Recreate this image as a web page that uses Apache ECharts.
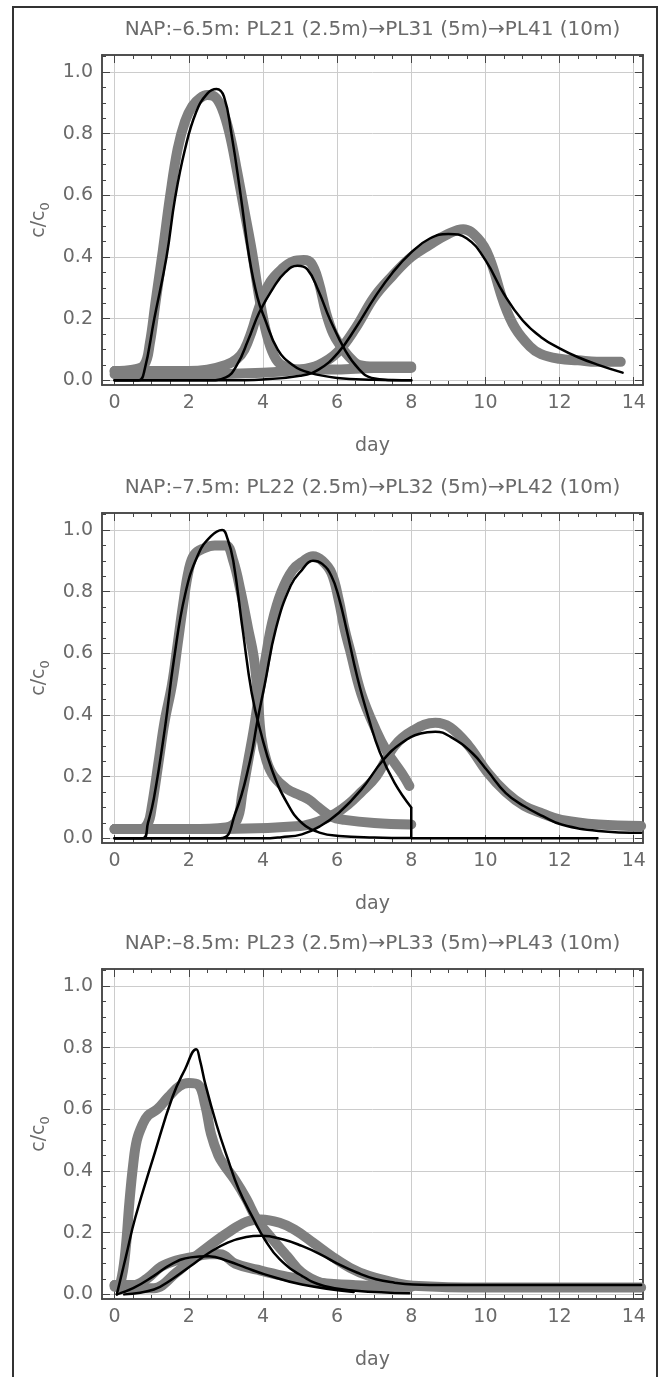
<!DOCTYPE html>
<html>
<head>
<meta charset="utf-8">
<script src="https://cdn.jsdelivr.net/npm/echarts@6/dist/echarts.min.js"></script>
<style>
html,body{margin:0;padding:0;background:#fff;}
#chart{width:660px;height:1377px;}
</style>
</head>
<body>
<div id="chart"></div>
<script>
// ---------- tick values / labels ----------
const X_MAJOR = [0, 2, 4, 6, 8, 10, 12, 14];
const X_MINOR = [0, 0.5, 1, 1.5, 2, 2.5, 3, 3.5, 4, 4.5, 5, 5.5, 6, 6.5, 7, 7.5, 8, 8.5, 9, 9.5, 10, 10.5, 11, 11.5, 12, 12.5, 13, 13.5, 14];
const Y_MAJOR = [0, 0.2, 0.4, 0.6, 0.8, 1.0];
const Y_MINOR = [0, 0.05, 0.1, 0.15, 0.2, 0.25, 0.3, 0.35, 0.4, 0.45, 0.5, 0.55, 0.6, 0.65, 0.7, 0.75, 0.8, 0.85, 0.9, 0.95, 1.0, 1.05];
const TITLES = [
  'NAP:\u20136.5m: PL21 (2.5m)\u2192PL31 (5m)\u2192PL41 (10m)',
  'NAP:\u20137.5m: PL22 (2.5m)\u2192PL32 (5m)\u2192PL42 (10m)',
  'NAP:\u20138.5m: PL23 (2.5m)\u2192PL33 (5m)\u2192PL43 (10m)'
];
const X_NAME = 'day';
const Y_NAME = 'c/c{s|0}';

// ---------- panel 1 : NAP -6.5 m ----------
const p1_PL21_meas = [[0,0.03],[0.5,0.035],[0.8,0.05],[0.95,0.12],[1.1,0.25],[1.3,0.42],[1.5,0.6],[1.7,0.75],[1.9,0.84],[2.1,0.89],[2.3,0.915],[2.5,0.925],[2.7,0.92],[2.9,0.88],[3.1,0.8],[3.3,0.68],[3.5,0.55],[3.7,0.42],[3.9,0.27],[4.1,0.15],[4.3,0.08],[4.5,0.05],[5,0.035],[6,0.035],[7,0.04],[8,0.04]];
const p1_PL31_meas = [[0,0.03],[1,0.03],[2,0.03],[2.5,0.035],[3,0.05],[3.3,0.07],[3.5,0.1],[3.7,0.16],[3.85,0.22],[4.0,0.27],[4.2,0.32],[4.5,0.36],[4.8,0.385],[5.1,0.39],[5.3,0.38],[5.5,0.32],[5.7,0.22],[5.9,0.15],[6.1,0.11],[6.3,0.08],[6.6,0.05],[7,0.045],[7.5,0.045],[8,0.045]];
const p1_PL41_meas = [[0,0.02],[2,0.02],[4,0.025],[5,0.035],[5.5,0.05],[6,0.09],[6.5,0.17],[7,0.27],[7.5,0.34],[8,0.4],[8.5,0.44],[9,0.475],[9.4,0.49],[9.8,0.46],[10.1,0.4],[10.5,0.25],[10.8,0.17],[11.2,0.11],[11.5,0.085],[12,0.07],[12.5,0.065],[13,0.06],[13.65,0.06]];
const p1_PL21_fit = [[0,0],[0.65,0],[0.8,0.03],[1.07,0.2],[1.4,0.4],[1.63,0.59],[1.9,0.75],[2.2,0.87],[2.5,0.93],[2.75,0.945],[2.95,0.92],[3.15,0.8],[3.4,0.6],[3.63,0.4],[3.85,0.27],[4.05,0.2],[4.4,0.1],[4.8,0.05],[5.25,0.025],[6,0.008],[7,0.002],[8,0]];
const p1_PL31_fit = [[0,0],[2.5,0],[3.0,0.01],[3.3,0.05],[3.6,0.13],[3.9,0.22],[4.28,0.3],[4.6,0.35],[4.93,0.372],[5.2,0.36],[5.5,0.29],[5.8,0.2],[6.23,0.095],[6.6,0.035],[6.93,0.008],[7.5,0.001],[8,0]];
const p1_PL41_fit = [[0,0],[3,0],[4,0.003],[5,0.015],[5.5,0.035],[6.03,0.09],[6.5,0.17],[7.02,0.27],[7.5,0.35],[8,0.415],[8.5,0.46],[9.0,0.475],[9.5,0.46],[10.0,0.39],[10.5,0.28],[11.0,0.195],[11.5,0.14],[12.0,0.104],[12.5,0.075],[13.0,0.052],[13.7,0.025]];

// ---------- panel 2 : NAP -7.5 m ----------
const p2_PL22_meas = [[0,0.03],[0.7,0.03],[0.9,0.05],[1.0,0.1],[1.2,0.26],[1.35,0.38],[1.55,0.5],[1.7,0.63],[1.85,0.76],[2.0,0.87],[2.15,0.92],[2.4,0.94],[2.7,0.95],[3.0,0.95],[3.2,0.9],[3.4,0.8],[3.6,0.68],[3.75,0.59],[3.85,0.48],[3.95,0.33],[4.1,0.25],[4.3,0.2],[4.65,0.16],[5.0,0.14],[5.25,0.125],[5.5,0.1],[5.85,0.07],[6.2,0.06],[7,0.05],[8,0.045]];
const p2_PL32_meas = [[0,0.03],[2,0.03],[3.0,0.035],[3.3,0.06],[3.45,0.15],[3.6,0.25],[3.75,0.35],[3.9,0.47],[4.05,0.57],[4.25,0.7],[4.5,0.8],[4.8,0.87],[5.1,0.9],[5.35,0.915],[5.6,0.9],[5.85,0.86],[6.05,0.77],[6.2,0.68],[6.35,0.61],[6.65,0.47],[7.05,0.35],[7.35,0.28],[7.75,0.21],[7.95,0.17]];
const p2_PL42_meas = [[0,0.03],[3,0.03],[5,0.04],[5.5,0.055],[5.95,0.08],[6.3,0.11],[6.65,0.15],[7.05,0.2],[7.55,0.3],[8.05,0.35],[8.65,0.375],[9.05,0.36],[9.55,0.3],[10.05,0.215],[10.55,0.15],[11.05,0.105],[11.55,0.08],[12.05,0.06],[13.05,0.045],[14.2,0.04]];
const p2_PL22_fit = [[0,0],[0.76,0],[0.9,0.05],[1.06,0.13],[1.36,0.36],[1.6,0.58],[1.9,0.79],[2.25,0.92],[2.6,0.98],[2.9,1.0],[3.05,0.97],[3.2,0.9],[3.45,0.68],[3.7,0.47],[3.95,0.34],[4.25,0.22],[4.65,0.115],[5.05,0.05],[5.55,0.018],[6.05,0.008],[7,0.003],[8,0.001]];
const p2_PL32_fit = [[0,0],[2.85,0],[3.25,0.08],[3.65,0.25],[3.85,0.38],[4.05,0.5],[4.35,0.68],[4.75,0.82],[5.05,0.87],[5.35,0.9],[5.6,0.89],[5.85,0.85],[6.05,0.78],[6.25,0.68],[6.55,0.52],[6.85,0.39],[7.15,0.28],[7.55,0.18],[8,0.1]];
const p2_PL32_fitTail = [[8,0.1],[8,0],[13.05,0]];
const p2_PL42_fit = [[0,0],[4,0],[4.5,0.004],[5.05,0.013],[5.55,0.04],[6.05,0.083],[6.65,0.158],[7.25,0.255],[7.75,0.31],[8.25,0.34],[8.65,0.346],[9.05,0.33],[9.65,0.276],[10.05,0.22],[10.55,0.147],[11.05,0.104],[11.55,0.072],[12.05,0.045],[13.05,0.024],[14.2,0.018]];

// ---------- panel 3 : NAP -8.5 m ----------
const p3_PL23_meas = [[0,0.03],[0.1,0.03],[0.2,0.06],[0.3,0.15],[0.4,0.3],[0.5,0.42],[0.6,0.5],[0.75,0.55],[0.9,0.58],[1.15,0.6],[1.45,0.64],[1.75,0.675],[2.0,0.685],[2.25,0.68],[2.45,0.61],[2.6,0.52],[2.8,0.45],[2.95,0.42],[3.25,0.37],[3.55,0.31],[3.85,0.24],[4.25,0.18],[4.65,0.124],[5.05,0.07],[5.55,0.038],[6,0.03],[7,0.025],[8,0.025]];
const p3_PL33_meas = [[0,0.03],[0.5,0.03],[0.86,0.05],[1.26,0.09],[1.66,0.11],[2.05,0.12],[2.55,0.13],[2.85,0.13],[3.25,0.1],[3.85,0.08],[4.55,0.06],[5.55,0.038],[6.5,0.03],[8,0.025]];
const p3_PL43_meas = [[0,0.025],[0.8,0.02],[1.06,0.02],[1.66,0.07],[2.05,0.11],[2.55,0.157],[3.05,0.2],[3.55,0.235],[3.95,0.243],[4.45,0.232],[4.85,0.21],[5.35,0.168],[5.85,0.124],[6.35,0.086],[6.85,0.06],[7.55,0.038],[8.05,0.028],[10,0.022],[12,0.022],[14.2,0.022]];
const p3_PL23_fit = [[0.06,0],[0.3,0.12],[0.56,0.25],[1.06,0.45],[1.56,0.64],[1.9,0.73],[2.2,0.795],[2.3,0.76],[2.45,0.68],[2.75,0.55],[3.05,0.44],[3.35,0.34],[3.75,0.243],[4.05,0.178],[4.45,0.114],[5.05,0.06],[5.65,0.027],[6.5,0.012],[7.95,0.004]];
const p3_PL33_fit = [[0.06,0],[0.5,0.02],[1.06,0.06],[1.56,0.1],[2.05,0.12],[2.55,0.124],[3.05,0.108],[3.55,0.086],[4.05,0.065],[5.05,0.032],[6.45,0.008]];
const p3_PL43_fit = [[0.26,0],[1.06,0.016],[1.56,0.05],[2.05,0.092],[2.55,0.135],[3.05,0.168],[3.55,0.186],[3.95,0.19],[4.55,0.178],[5.05,0.157],[5.55,0.13],[6.05,0.097],[6.55,0.07],[7.05,0.049],[7.55,0.038],[8.05,0.032],[9,0.03],[14.2,0.03]];

const PANELS = [
  {meas: [p1_PL21_meas, p1_PL31_meas, p1_PL41_meas], fits: [p1_PL21_fit, p1_PL31_fit, p1_PL41_fit], lines: []},
  {meas: [p2_PL22_meas, p2_PL32_meas, p2_PL42_meas], fits: [p2_PL22_fit, p2_PL32_fit, p2_PL42_fit], lines: [p2_PL32_fitTail]},
  {meas: [p3_PL23_meas, p3_PL33_meas, p3_PL43_meas], fits: [p3_PL23_fit, p3_PL33_fit, p3_PL43_fit], lines: []}
];

// ---------- styling / layout ----------
const FONT = 'DejaVu Sans';
const FS = 19;
const TXT = '#6a6a6a';
const FRAME = '#454545';
const GRIDC = '#cccccc';
const X_MIN = -0.34, X_MAX = 14.25;
const Y_MIN = -0.015, Y_MAX = 1.055;
const GRID_TOPS = [55, 513, 969];
const GRID_H = 330;

const grids = [], xAxes = [], yAxes = [], series = [];

function xAx(k, pos, major) {
  const isBottom = pos === 'bottom';
  const a = {
    type: 'value', gridIndex: k, position: pos, min: X_MIN, max: X_MAX,
    axisLine: {show: true, onZero: false, lineStyle: {color: FRAME, width: 1.5}},
    axisTick: {show: true, inside: true, length: major ? 8 : 4, customValues: major ? X_MAJOR : X_MINOR, lineStyle: {color: FRAME, width: 1}},
    axisLabel: {show: major && isBottom, customValues: X_MAJOR, margin: 9, color: TXT, fontFamily: FONT, fontSize: FS, formatter: v => String(v)},
    splitLine: {show: major && isBottom, lineStyle: {color: GRIDC, width: 1}},
    minorTick: {show: false}, minorSplitLine: {show: false}
  };
  if (major && isBottom) {
    a.name = X_NAME; a.nameLocation = 'middle'; a.nameGap = 52;
    a.nameTextStyle = {color: TXT, fontFamily: FONT, fontSize: FS};
  }
  if (major && !isBottom) {
    a.name = TITLES[k]; a.nameLocation = 'middle'; a.nameGap = 15;
    a.nameTextStyle = {color: TXT, fontFamily: FONT, fontSize: 20};
  }
  return a;
}
function yAx(k, pos, major) {
  const isLeft = pos === 'left';
  const a = {
    type: 'value', gridIndex: k, position: pos, min: Y_MIN, max: Y_MAX,
    axisLine: {show: true, onZero: false, lineStyle: {color: FRAME, width: 1.5}},
    axisTick: {show: true, inside: true, length: major ? 8 : 4, customValues: major ? Y_MAJOR : Y_MINOR, lineStyle: {color: FRAME, width: 1}},
    axisLabel: {show: major && isLeft, customValues: Y_MAJOR, margin: 9, color: TXT, fontFamily: FONT, fontSize: FS, formatter: v => v.toFixed(1)},
    splitLine: {show: major && isLeft, lineStyle: {color: GRIDC, width: 1}},
    minorTick: {show: false}, minorSplitLine: {show: false}
  };
  if (major && isLeft) {
    a.name = Y_NAME; a.nameLocation = 'middle'; a.nameGap = 56; a.nameRotate = 90;
    a.nameTextStyle = {color: TXT, fontFamily: FONT, fontSize: FS, lineHeight: 26, verticalAlign: 'middle',
      rich: {s: {color: TXT, fontFamily: FONT, fontSize: 13, lineHeight: 26, verticalAlign: 'bottom'}}};
  }
  return a;
}

PANELS.forEach((p, k) => {
  grids.push({left: 102, right: 17, top: GRID_TOPS[k], height: GRID_H, containLabel: false});
  const xb = xAxes.length;
  xAxes.push(xAx(k, 'bottom', true), xAx(k, 'bottom', false), xAx(k, 'top', true), xAx(k, 'top', false));
  const yb = yAxes.length;
  yAxes.push(yAx(k, 'left', true), yAx(k, 'left', false), yAx(k, 'right', true), yAx(k, 'right', false));
  p.meas.forEach(d => series.push({
    type: 'line', xAxisIndex: xb, yAxisIndex: yb, data: d, showSymbol: false,
    smooth: 0.4, z: 2,
    lineStyle: {color: '#7f7f7f', width: 10, cap: 'round', join: 'round'}
  }));
  p.fits.forEach(d => series.push({
    type: 'line', xAxisIndex: xb, yAxisIndex: yb, data: d, showSymbol: false,
    smooth: 0.45, z: 3,
    lineStyle: {color: '#000', width: 2.5, cap: 'round', join: 'round'}
  }));
  p.lines.forEach(d => series.push({
    type: 'line', xAxisIndex: xb, yAxisIndex: yb, data: d, showSymbol: false,
    smooth: false, z: 3, lineStyle: {color: '#000', width: 2.5}
  }));
});

const chart = echarts.init(document.getElementById('chart'), null, {renderer: 'canvas'});
chart.setOption({
  animation: false,
  backgroundColor: '#fff',
  grid: grids, xAxis: xAxes, yAxis: yAxes, series: series,
  graphic: [{
    type: 'polyline', silent: true, z: 10,
    shape: {points: [[13, 1380], [13, 7], [657, 7], [657, 1380]]},
    style: {stroke: '#333', lineWidth: 2, fill: null}
  }]
});
</script>
</body>
</html>
